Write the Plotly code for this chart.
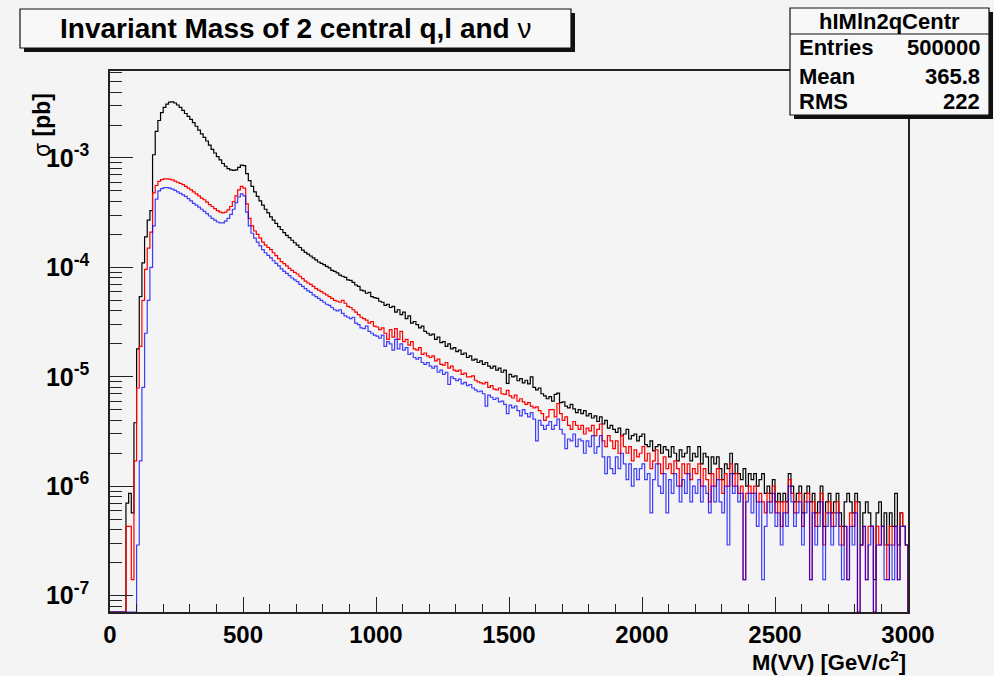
import numpy as np
import plotly.graph_objects as go

# ---------------- data (sigma [pb] per 10 GeV bin, 0..3000 GeV) ----------------
bin_width = 10.0
x_lo, x_hi = 0.0, 3000.0

black = [
 0, 0, 0, 0, 0, 0, 7.0e-7, 8.6e-7, 5.7e-7, 3.8e-6,
 1.8e-5, 5.4e-5, 1.1e-4, 1.9e-4, 2.7e-4, 3.3e-4, 1.07e-3, 1.75e-3, 2.2e-3, 2.6e-3,
 2.9e-3, 3.1e-3, 3.24e-3, 3.26e-3, 3.18e-3, 3.05e-3, 2.9e-3, 2.72e-3, 2.55e-3, 2.4e-3,
 2.25e-3, 2.1e-3, 1.95e-3, 1.8e-3, 1.66e-3, 1.54e-3, 1.43e-3, 1.31e-3, 1.2e-3, 1.11e-3,
 1.03e-3, 9.6e-4, 8.9e-4, 8.4e-4, 8.0e-4, 7.8e-4, 7.7e-4, 7.8e-4, 8.2e-4, 8.6e-4,
 8.5e-4, 7.2e-4, 6.2e-4, 5.5e-4, 4.9e-4, 4.45e-4, 4.05e-4, 3.7e-4, 3.4e-4, 3.15e-4,
 2.9e-4, 2.7e-4, 2.52e-4, 2.36e-4, 2.22e-4, 2.08e-4, 1.96e-4, 1.87e-4, 1.77e-4, 1.68e-4,
 1.6e-4, 1.52e-4, 1.44e-4, 1.37e-4, 1.32e-4, 1.27e-4, 1.22e-4, 1.17e-4, 1.12e-4, 1.09e-4,
 1.06e-4, 1.02e-4, 9.9e-5, 9.4e-5, 9.2e-5, 8.9e-5, 8.5e-5, 8.3e-5, 8.1e-5, 7.7e-5,
 7.6e-5, 7.3e-5, 6.9e-5, 6.7e-5, 6.2e-5, 6.1e-5, 5.8e-5, 5.9e-5, 5.4e-5, 5.3e-5,
 5.2e-5, 4.9e-5, 4.8e-5, 4.5e-5, 4.6e-5, 4.3e-5, 4.4e-5, 3.9e-5, 4.1e-5, 3.7e-5,
 3.9e-5, 3.4e-5, 3.6e-5, 3.1e-5, 3.2e-5, 3.0e-5, 2.8e-5, 2.9e-5, 2.6e-5, 2.5e-5,
 2.4e-5, 2.45e-5, 2.2e-5, 2.3e-5, 2.05e-5, 2.1e-5, 1.9e-5, 2.0e-5, 1.8e-5, 1.85e-5,
 1.7e-5, 1.75e-5, 1.6e-5, 1.65e-5, 1.5e-5, 1.55e-5, 1.42e-5, 1.45e-5, 1.35e-5, 1.4e-5,
 1.3e-5, 1.35e-5, 1.25e-5, 1.2e-5, 1.25e-5, 1.15e-5, 1.2e-5, 1.1e-5, 1.15e-5, 8.7e-6,
 1.05e-5, 1.0e-5, 1.02e-5, 9.2e-6, 9.6e-6, 8.8e-6, 9.3e-6, 8.6e-6, 1.0e-5, 8.0e-6,
 7.6e-6, 7.9e-6, 7.0e-6, 6.7e-6, 6.3e-6, 6.6e-6, 6.0e-6, 6.9e-6, 7.1e-6, 5.8e-6,
 5.9e-6, 5.4e-6, 5.2e-6, 5.6e-6, 5.1e-6, 4.7e-6, 5.0e-6, 4.6e-6, 4.9e-6, 4.4e-6,
 4.6e-6, 4.2e-6, 4.4e-6, 3.9e-6, 4.3e-6, 3.7e-6, 4.0e-6, 3.4e-6, 3.6e-6, 3.3e-6,
 3.1e-6, 3.4e-6, 2.9e-6, 3.0e-6, 3.3e-6, 2.7e-6, 2.9e-6, 3.0e-6, 2.6e-6, 2.85e-6,
 3.0e-6, 2.4e-6, 2.3e-6, 2.6e-6, 2.1e-6, 2.3e-6, 2.4e-6, 2.0e-6, 2.3e-6, 2.15e-6,
 1.85e-6, 2.3e-6, 2.0e-6, 1.7e-6, 2.15e-6, 1.85e-6, 2.0e-6, 2.3e-6, 1.7e-6, 2.0e-6,
 1.85e-6, 2.3e-6, 1.6e-6, 2.0e-6, 1.85e-6, 1.3e-6, 1.85e-6, 1.6e-6, 1.85e-6, 1.45e-6,
 1.15e-6, 1.6e-6, 1.45e-6, 2.0e-6, 1.3e-6, 1.6e-6, 1.3e-6, 1.15e-6, 1.45e-6, 1.0e-6,
 1.3e-6, 1.15e-6, 1.3e-6, 1.0e-6, 1.15e-6, 1.3e-6, 8.6e-7, 1.0e-6, 8.6e-7, 1.15e-6,
 7.2e-7, 8.6e-7, 7.2e-7, 8.6e-7, 7.2e-7, 1.3e-6, 1.0e-6, 7.2e-7, 8.6e-7, 1.0e-6,
 5.7e-7, 8.6e-7, 1.0e-6, 7.2e-7, 8.6e-7, 5.7e-7, 7.2e-7, 1.0e-6, 4.3e-7, 7.2e-7,
 8.6e-7, 5.7e-7, 7.2e-7, 8.6e-7, 5.7e-7, 4.3e-7, 7.2e-7, 8.6e-7, 7.2e-7, 5.7e-7,
 8.6e-7, 7.2e-7, 2.9e-7, 5.7e-7, 7.2e-7, 5.7e-7, 4.3e-7, 1.4e-7, 5.7e-7, 7.2e-7,
 4.3e-7, 5.7e-7, 2.9e-7, 5.7e-7, 4.3e-7, 8.6e-7, 2.9e-7, 5.7e-7, 4.3e-7, 2.9e-7,
]

red = [
 0, 0, 0, 0, 0, 0, 4.3e-7, 4.3e-7, 1.4e-7, 1.7e-6,
 7.9e-6, 1.9e-5, 5.0e-5, 9.6e-5, 1.5e-4, 2.1e-4, 4.8e-4, 5.6e-4, 6.1e-4, 6.35e-4,
 6.45e-4, 6.45e-4, 6.4e-4, 6.3e-4, 6.15e-4, 6.0e-4, 5.85e-4, 5.7e-4, 5.5e-4, 5.3e-4,
 5.1e-4, 4.9e-4, 4.7e-4, 4.5e-4, 4.3e-4, 4.15e-4, 3.95e-4, 3.75e-4, 3.6e-4, 3.45e-4,
 3.3e-4, 3.2e-4, 3.15e-4, 3.2e-4, 3.35e-4, 3.6e-4, 4.0e-4, 4.5e-4, 5.1e-4, 5.5e-4,
 5.3e-4, 3.8e-4, 2.8e-4, 2.4e-4, 2.15e-4, 2.0e-4, 1.85e-4, 1.7e-4, 1.6e-4, 1.52e-4,
 1.45e-4, 1.36e-4, 1.28e-4, 1.2e-4, 1.13e-4, 1.08e-4, 1.03e-4, 9.8e-5, 9.4e-5, 9.0e-5,
 8.7e-5, 8.3e-5, 7.9e-5, 7.5e-5, 7.2e-5, 7.0e-5, 6.7e-5, 6.4e-5, 6.2e-5, 6.0e-5,
 5.8e-5, 5.6e-5, 5.4e-5, 5.2e-5, 5.0e-5, 4.9e-5, 4.8e-5, 5.0e-5, 4.7e-5, 4.4e-5,
 4.3e-5, 4.1e-5, 3.9e-5, 3.7e-5, 3.5e-5, 3.4e-5, 3.3e-5, 3.1e-5, 3.2e-5, 2.9e-5,
 2.85e-5, 2.7e-5, 2.8e-5, 2.5e-5, 2.2e-5, 2.7e-5, 2.3e-5, 2.75e-5, 2.2e-5, 2.6e-5,
 2.1e-5, 2.2e-5, 1.95e-5, 2.1e-5, 1.8e-5, 1.75e-5, 1.85e-5, 1.6e-5, 1.65e-5, 1.55e-5,
 1.5e-5, 1.55e-5, 1.4e-5, 1.45e-5, 1.3e-5, 1.28e-5, 1.35e-5, 1.2e-5, 1.25e-5, 1.15e-5,
 1.12e-5, 1.15e-5, 1.05e-5, 1.08e-5, 1.0e-5, 1.0e-5, 1.02e-5, 9.3e-6, 9.0e-6, 8.8e-6,
 8.6e-6, 8.9e-6, 8.0e-6, 8.3e-6, 7.7e-6, 7.6e-6, 7.9e-6, 7.0e-6, 6.9e-6, 7.5e-6,
 6.7e-6, 6.4e-6, 6.8e-6, 6.0e-6, 6.3e-6, 5.9e-6, 5.6e-6, 5.8e-6, 5.4e-6, 5.2e-6,
 5.3e-6, 4.9e-6, 4.6e-6, 4.0e-6, 4.3e-6, 5.0e-6, 5.0e-6, 4.3e-6, 5.7e-6, 4.6e-6,
 4.0e-6, 4.3e-6, 3.6e-6, 3.3e-6, 3.9e-6, 3.6e-6, 3.3e-6, 3.6e-6, 3.0e-6, 3.4e-6,
 3.2e-6, 3.6e-6, 2.9e-6, 3.3e-6, 3.7e-6, 2.6e-6, 2.3e-6, 2.9e-6, 2.6e-6, 2.2e-6,
 2.6e-6, 2.0e-6, 2.9e-6, 2.3e-6, 2.0e-6, 2.3e-6, 1.7e-6, 2.15e-6, 1.85e-6, 2.0e-6,
 2.3e-6, 1.7e-6, 2.0e-6, 1.45e-6, 1.7e-6, 2.15e-6, 1.6e-6, 1.3e-6, 1.85e-6, 1.45e-6,
 1.6e-6, 1.3e-6, 1.7e-6, 1.45e-6, 1.0e-6, 1.6e-6, 1.3e-6, 1.6e-6, 1.15e-6, 1.45e-6,
 1.3e-6, 1.6e-6, 1.0e-6, 1.45e-6, 1.15e-6, 7.2e-7, 1.3e-6, 1.0e-6, 1.45e-6, 1.15e-6,
 8.6e-7, 1.3e-6, 1.0e-6, 1.6e-6, 1.0e-6, 1.3e-6, 8.6e-7, 1.0e-6, 1.4e-7, 8.6e-7,
 1.0e-6, 8.6e-7, 1.0e-6, 7.2e-7, 8.6e-7, 7.2e-7, 5.7e-7, 8.6e-7, 7.2e-7, 1.0e-6,
 5.7e-7, 7.2e-7, 4.3e-7, 7.2e-7, 5.7e-7, 1.15e-6, 8.6e-7, 5.7e-7, 7.2e-7, 8.6e-7,
 4.3e-7, 7.2e-7, 8.6e-7, 1.4e-7, 7.2e-7, 4.3e-7, 5.7e-7, 8.6e-7, 2.9e-7, 5.7e-7,
 7.2e-7, 4.3e-7, 5.7e-7, 7.2e-7, 4.3e-7, 2.9e-7, 4.3e-7, 1.4e-7, 5.7e-7, 4.3e-7,
 7.2e-7, 0, 2.9e-7, 4.3e-7, 1.4e-7, 4.3e-7, 4.3e-7, 0, 4.3e-7, 2.9e-7,
 4.3e-7, 2.9e-7, 1.4e-7, 4.3e-7, 2.9e-7, 4.3e-7, 1.4e-7, 5.7e-7, 4.3e-7, 2.9e-7,
]

blue = [
 0, 0, 0, 0, 0, 0, 0, 0, 0, 0,
 2.9e-7, 1.7e-6, 8.0e-6, 2.5e-5, 5.0e-5, 1.0e-4, 2.4e-4, 4.2e-4, 5.0e-4, 5.25e-4,
 5.35e-4, 5.35e-4, 5.3e-4, 5.2e-4, 5.05e-4, 4.9e-4, 4.75e-4, 4.6e-4, 4.45e-4, 4.25e-4,
 4.05e-4, 3.85e-4, 3.7e-4, 3.55e-4, 3.4e-4, 3.25e-4, 3.1e-4, 2.95e-4, 2.8e-4, 2.7e-4,
 2.6e-4, 2.55e-4, 2.55e-4, 2.65e-4, 2.8e-4, 3.05e-4, 3.4e-4, 3.9e-4, 4.4e-4, 4.7e-4,
 4.5e-4, 3.2e-4, 2.4e-4, 2.05e-4, 1.85e-4, 1.7e-4, 1.57e-4, 1.45e-4, 1.36e-4, 1.29e-4,
 1.22e-4, 1.15e-4, 1.09e-4, 1.03e-4, 9.7e-5, 9.2e-5, 8.8e-5, 8.4e-5, 8.0e-5, 7.7e-5,
 7.4e-5, 7.0e-5, 6.7e-5, 6.4e-5, 6.1e-5, 5.9e-5, 5.6e-5, 5.4e-5, 5.2e-5, 5.0e-5,
 4.8e-5, 4.6e-5, 4.5e-5, 4.3e-5, 4.1e-5, 4.0e-5, 4.1e-5, 3.8e-5, 3.6e-5, 3.5e-5,
 3.4e-5, 3.5e-5, 3.1e-5, 3.0e-5, 2.8e-5, 2.75e-5, 2.9e-5, 2.6e-5, 2.5e-5, 2.4e-5,
 2.35e-5, 2.25e-5, 2.4e-5, 1.9e-5, 2.1e-5, 2.0e-5, 1.75e-5, 2.2e-5, 1.8e-5, 2.0e-5,
 1.75e-5, 1.85e-5, 1.6e-5, 1.65e-5, 1.5e-5, 1.45e-5, 1.5e-5, 1.35e-5, 1.3e-5, 1.35e-5,
 1.25e-5, 1.2e-5, 1.25e-5, 1.1e-5, 1.15e-5, 1.05e-5, 1.1e-5, 8.5e-6, 1.0e-5, 9.6e-6,
 9.2e-6, 9.5e-6, 8.6e-6, 8.9e-6, 8.3e-6, 8.5e-6, 7.9e-6, 7.6e-6, 7.3e-6, 7.4e-6,
 7.0e-6, 5.4e-6, 6.8e-6, 6.5e-6, 6.2e-6, 6.4e-6, 5.9e-6, 6.0e-6, 5.6e-6, 4.6e-6,
 5.5e-6, 5.2e-6, 5.4e-6, 4.9e-6, 4.4e-6, 5.0e-6, 4.6e-6, 4.3e-6, 4.7e-6, 4.1e-6,
 2.6e-6, 4.0e-6, 3.6e-6, 3.3e-6, 3.6e-6, 3.9e-6, 3.3e-6, 3.6e-6, 4.1e-6, 3.3e-6,
 3.0e-6, 2.2e-6, 2.7e-6, 2.6e-6, 3.0e-6, 2.3e-6, 2.7e-6, 2.6e-6, 2.0e-6, 2.6e-6,
 2.3e-6, 2.9e-6, 2.0e-6, 2.3e-6, 2.9e-6, 1.85e-6, 1.3e-6, 1.85e-6, 1.45e-6, 1.3e-6,
 1.85e-6, 1.45e-6, 2.0e-6, 1.6e-6, 1.15e-6, 1.6e-6, 1.0e-6, 1.45e-6, 1.15e-6, 1.45e-6,
 1.6e-6, 1.15e-6, 1.3e-6, 5.7e-7, 1.15e-6, 1.6e-6, 1.0e-6, 8.6e-7, 1.3e-6, 5.7e-7,
 1.15e-6, 8.6e-7, 1.3e-6, 1.0e-6, 7.2e-7, 1.15e-6, 8.6e-7, 1.3e-6, 7.2e-7, 1.0e-6,
 8.6e-7, 1.15e-6, 7.2e-7, 1.0e-6, 8.6e-7, 5.7e-7, 1.0e-6, 7.2e-7, 1.15e-6, 7.2e-7,
 5.7e-7, 1.0e-6, 2.9e-7, 1.3e-6, 8.6e-7, 1.0e-6, 7.2e-7, 8.6e-7, 1.4e-7, 7.2e-7,
 8.6e-7, 5.7e-7, 8.6e-7, 4.3e-7, 7.2e-7, 1.4e-7, 4.3e-7, 7.2e-7, 5.7e-7, 8.6e-7,
 4.3e-7, 5.7e-7, 2.9e-7, 5.7e-7, 4.3e-7, 1.0e-6, 7.2e-7, 4.3e-7, 5.7e-7, 7.2e-7,
 2.9e-7, 5.7e-7, 7.2e-7, 1.4e-7, 5.7e-7, 2.9e-7, 4.3e-7, 7.2e-7, 1.4e-7, 4.3e-7,
 5.7e-7, 2.9e-7, 4.3e-7, 5.7e-7, 2.9e-7, 1.4e-7, 4.3e-7, 1.4e-7, 4.3e-7, 2.9e-7,
 5.7e-7, 0, 2.9e-7, 4.3e-7, 1.4e-7, 2.9e-7, 4.3e-7, 0, 2.9e-7, 2.9e-7,
 4.3e-7, 1.4e-7, 1.4e-7, 2.9e-7, 1.4e-7, 4.3e-7, 1.4e-7, 4.3e-7, 4.3e-7, 2.9e-7,
]

y_tick_vals = [1e-7, 1e-6, 1e-5, 1e-4, 1e-3]
y_tick_text = ["10<sup>-7</sup>", "10<sup>-6</sup>", "10<sup>-5</sup>", "10<sup>-4</sup>", "10<sup>-3</sup>"]

title_text = "<b>Invariant Mass of 2 central q,l and</b> \u03bd"
stats_name = "hIMln2qCentr"
stats_rows = [("Entries", "500000"), ("Mean", "365.8"), ("RMS", "222")]

# ---------------- layout geometry ----------------
W, H = 994, 676
L, R, T, B = 110, 86, 71, 64
PW, PH = W - L - R, H - T - B
y_log_range = [-7.15, -2.205]
floor = 10 ** y_log_range[0]

def px(x):
    return (x - L) / PW

def py(y):
    return (H - B - y) / PH

edges = np.arange(x_lo, x_hi + bin_width / 2, bin_width)

def step_xy(vals):
    v = [floor if val <= 0 else val for val in vals]
    xs = [edges[0]] + list(edges[:-1]) + [edges[-1], edges[-1]]
    ys = [floor] + v + [v[-1], floor]
    return xs, ys

fig = go.Figure()
for vals, col, op in [(black, "#000000", 1.0), (red, "#ff0000", 1.0), (blue, "#0000ff", 0.75)]:
    xs, ys = step_xy(vals)
    fig.add_trace(go.Scatter(x=xs, y=ys, mode="lines", opacity=op,
                             line=dict(shape="hv", color=col, width=1.2),
                             hoverinfo="skip", showlegend=False))

FONT = "Liberation Sans, Arial, Helvetica, sans-serif"
axis_col = "#222222"

fig.update_layout(
    width=W, height=H,
    margin=dict(l=L, r=R, t=T, b=B, pad=0),
    paper_bgcolor="#f4f4f4", plot_bgcolor="#f4f4f4",
    font=dict(family=FONT, color="black"),
    xaxis=dict(range=[x_lo, x_hi], showline=True, linecolor=axis_col, linewidth=1.5, mirror=True,
               ticks="inside", ticklen=15, tickwidth=1, tickcolor=axis_col,
               tick0=0, dtick=500, showgrid=False, zeroline=False,
               tickfont=dict(size=24, family=FONT, weight="bold"), ticklabelstandoff=0,
               minor=dict(dtick=100, ticks="inside", ticklen=8, tickcolor=axis_col, showgrid=False)),
    yaxis=dict(type="log", range=y_log_range, showline=True, linecolor=axis_col, linewidth=1.5, mirror=True,
               tickmode="array", tickvals=y_tick_vals, ticktext=y_tick_text,
               ticks="inside", ticklen=23, tickwidth=1, tickcolor=axis_col,
               showgrid=False, zeroline=False,
               tickfont=dict(size=25, family=FONT, weight="bold"), ticklabelstandoff=14,
               minor=dict(dtick="D1", ticks="inside", ticklen=12, tickcolor=axis_col, showgrid=False)),
)

shapes = []
# title box
shapes.append(dict(type="rect", xref="paper", yref="paper", x0=px(24), x1=px(575), y0=py(13), y1=py(52),
                   fillcolor="#111111", line=dict(width=0), layer="above"))
shapes.append(dict(type="rect", xref="paper", yref="paper", x0=px(20), x1=px(571), y0=py(9), y1=py(48),
                   fillcolor="#f8f8f8", line=dict(color="#111111", width=1.2), layer="above"))
# stats box
shapes.append(dict(type="rect", xref="paper", yref="paper", x0=px(794), x1=px(993), y0=py(12), y1=py(119),
                   fillcolor="#111111", line=dict(width=0), layer="above"))
shapes.append(dict(type="rect", xref="paper", yref="paper", x0=px(790), x1=px(989), y0=py(8), y1=py(115),
                   fillcolor="#f8f8f8", line=dict(color="#111111", width=1.2), layer="above"))
shapes.append(dict(type="line", xref="paper", yref="paper", x0=px(790), x1=px(989), y0=py(34), y1=py(34),
                   line=dict(color="#111111", width=1.2), layer="above"))
fig.update_layout(shapes=shapes)

ann = []
ann.append(dict(text=title_text, x=px(295.5), y=py(29), xref="paper", yref="paper",
                xanchor="center", yanchor="middle", showarrow=False, font=dict(size=28, family=FONT)))
ann.append(dict(text="<b>" + stats_name + "</b>", x=px(889.5), y=py(22), xref="paper", yref="paper",
                xanchor="center", yanchor="middle", showarrow=False, font=dict(size=22, family=FONT)))
for (lab, val), yy in zip(stats_rows, [48, 76, 102]):
    ann.append(dict(text="<b>" + lab + "</b>", x=px(797), y=py(yy), xref="paper", yref="paper",
                    xanchor="left", yanchor="middle", showarrow=False, font=dict(size=22, family=FONT)))
    ann.append(dict(text="<b>" + val + "</b>", x=px(982), y=py(yy), xref="paper", yref="paper",
                    xanchor="right", yanchor="middle", showarrow=False, font=dict(size=22, family=FONT)))
ann.append(dict(text="<b>M(VV) [GeV/c<sup>2</sup>]</b>", x=1.0, y=py(661), xref="paper", yref="paper",
                xanchor="right", yanchor="middle", showarrow=False, font=dict(size=22, family=FONT)))
ann.append(dict(text="\u03c3 <b>[pb]</b>", x=px(42), y=py(125), xref="paper", yref="paper",
                xanchor="center", yanchor="middle", textangle=-90, showarrow=False,
                font=dict(size=23, family=FONT)))
fig.update_layout(annotations=ann)

fig.write_html("out.html", config={"displayModeBar": False},
               post_script="document.body.style.margin='0';document.body.style.padding='0';")
